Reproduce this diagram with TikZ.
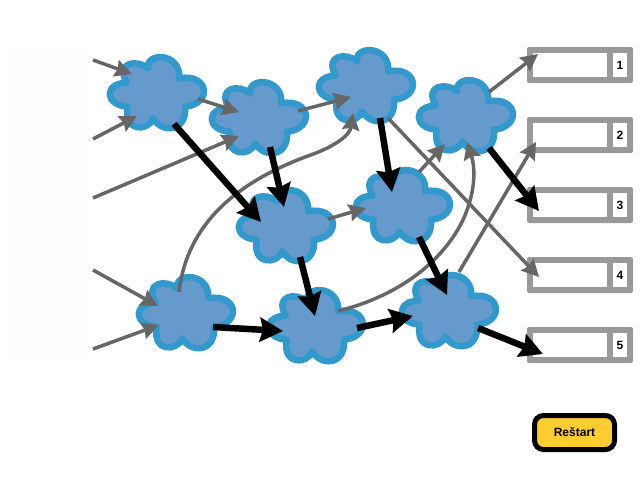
\documentclass[tikz,border=0pt]{standalone}
\usepackage{fontspec}
\setmainfont{Liberation Sans}
\usetikzlibrary{arrows.meta}
\definecolor{cloudfill}{HTML}{6699CC}
\definecolor{cloudline}{HTML}{3399CC}
\definecolor{linegrey}{HTML}{666666}
\definecolor{boxgrey}{HTML}{999999}
\definecolor{btn}{HTML}{FFCC33}
\definecolor{panel}{HTML}{FEFEFE}
\tikzset{
  x=1pt,y=-1pt,
  hub/.style={coordinate},
  cloudshape/.pic={
    \path[fill=cloudfill,draw=cloudline,line width=6.5pt,line join=round]
      (-8.7,-23.7) .. controls (-12,-40) and (24,-40) .. (22.3,-13.7)
      .. controls (52,-19) and (56,12) .. (28,14.7)
      .. controls (30,41) and (4,41) .. (-3.7,26.3)
      .. controls (-9,40) and (-34,40) .. (-29.3,14.7)
      .. controls (-53,13) and (-53,-9) .. (-30.3,-9.3)
      .. controls (-42,-30) and (-20,-33) .. (-8.7,-23.7) -- cycle;
  },
  slotframe/.style={fill=boxgrey,rounded corners=2pt,minimum width=106pt,minimum height=36pt,inner sep=0pt},
  slotwhite/.style={fill=white,minimum width=74pt,minimum height=24pt,inner sep=0pt},
  slotnum/.style={fill=white,minimum width=14pt,minimum height=24pt,inner sep=0pt,font=\fontsize{12}{14}\selectfont\bfseries},
  thin arrow/.style={draw=linegrey,line width=3.5pt,-{Stealth[length=17pt,width=17pt,inset=2pt,fill=linegrey]}},
  bold arrow/.style={draw=black,line width=6.5pt,-{Stealth[length=23pt,width=24pt,inset=3pt,fill=black]}},
}
\begin{document}
\begin{tikzpicture}
\useasboundingbox (0,0) rectangle (640,480);
\fill[panel] (7,47) rectangle (93,363);
% slots
\foreach \i/\y in {1/65,2/135,3/205,4/275,5/345}{
  \node[slotframe] (b\i) at (580,\y) {};
  \node[slotwhite] (w\i) at (570,\y) {};
  \node[slotnum] (n\i) at (620,\y) {\i};
}
% clouds
\foreach \n/\p in {c1/{157,92},c2/{259,117},c3/{366,85},c4/{466,115},c5/{286,225},c6/{403,205},c7/{186,312},c8/{316,325},c9/{449,310}}{
  \node[hub] (\n) at (\p) {};
  \pic at (\n) {cloudshape};
}
% free ends
\coordinate (i1) at (93,60);
\coordinate (i2) at (93,139);
\coordinate (i3) at (93,198);
\coordinate (i4) at (93,270);
\coordinate (i5) at (93,349);
% grey connectors
\draw[thin arrow] (i1) -- ([shift={(-25,-18)}]c1);
\draw[thin arrow] (i2) -- ([shift={(-20,24)}]c1);
\draw[thin arrow] (i3) -- ([shift={(-20,19)}]c2);
\draw[thin arrow] (i4) -- ([shift={(-28,-6)}]c7);
\draw[thin arrow] (i5) -- ([shift={(-27,13)}]c7);
\draw[thin arrow] ([shift={(41,7)}]c1) -- ([shift={(-20,-5)}]c2);
\draw[thin arrow] ([shift={(39,-6)}]c2) -- ([shift={(-15,12)}]c3);
\draw[thin arrow] ([shift={(42,-6)}]c5) -- ([shift={(-37,3)}]c6);
\draw[thin arrow] ([shift={(16,-33)}]c6) -- ([shift={(-21,29)}]c4);
\draw[thin arrow] ([shift={(10,-38)}]c9) -- ([shift={(-44,7)}]b2.center);
\draw[thin arrow] ([shift={(23,-23)}]c4) -- ([shift={(-42,-11)}]b1.center);
\draw[thin arrow] ([shift={(22,33)}]c3) -- ([shift={(-41,2)}]b4.center);
\draw[thin arrow] ([shift={(-7,-20)}]c7) .. controls (188,215) and (250,178) .. (305,157) .. controls (335,147) and (350,135) .. ([shift={(-13,28)}]c3);
\draw[thin arrow] ([shift={(22,-14)}]c8) .. controls (395,297) and (440,265) .. (462,222) .. controls (475,195) and (476,170) .. ([shift={(1,27)}]c4);
% black connectors
\draw[bold arrow] ([shift={(17,32)}]c1) -- ([shift={(-25,-3)}]c5);
\draw[bold arrow] ([shift={(11,30)}]c2) -- ([shift={(-2,-18)}]c5);
\draw[bold arrow] ([shift={(14,33)}]c3) -- ([shift={(-11,-13)}]c6);
\draw[bold arrow] ([shift={(23,33)}]c4) -- ([shift={(-41,6)}]b3.center);
\draw[bold arrow] ([shift={(14,32)}]c5) -- ([shift={(-1,-9)}]c8);
\draw[bold arrow] ([shift={(16,32)}]c6) -- ([shift={(-2,-15)}]c9);
\draw[bold arrow] ([shift={(27,15)}]c7) -- ([shift={(-33,6)}]c8);
\draw[bold arrow] ([shift={(41,3)}]c8) -- ([shift={(-36,6)}]c9);
\draw[bold arrow] ([shift={(29,18)}]c9) -- ([shift={(-37,9)}]b5.center);
% button
\node[draw=black,fill=btn,line width=5pt,rounded corners=9pt,minimum width=80pt,minimum height=34pt,inner sep=0pt,font=\fontsize{12}{14}\selectfont\bfseries] (restart) at (574.5,432.5) {Reštart};
\end{tikzpicture}
\end{document}
